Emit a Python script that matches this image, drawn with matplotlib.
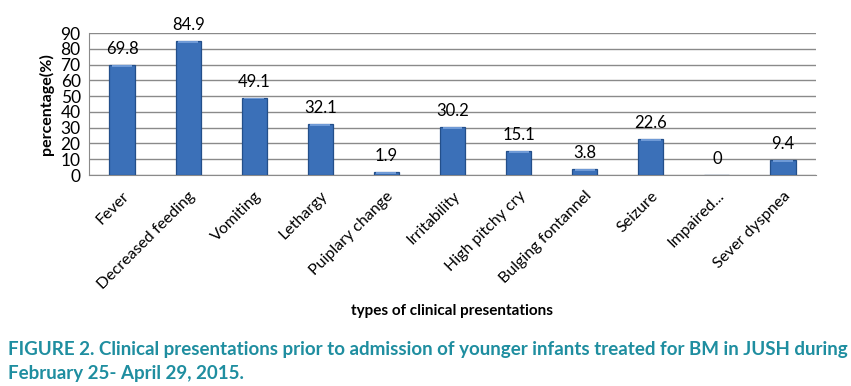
import matplotlib.pyplot as plt
import numpy as np

categories = ["Fever", "Decreased feeding", "Vomiting", "Lethargy", "Puiplary change",
              "Irritability", "High pitchy cry", "Bulging fontannel", "Seizure",
              "Impaired...", "Sever dyspnea"]
values = [69.8, 84.9, 49.1, 32.1, 1.9, 30.2, 15.1, 3.8, 22.6, 0, 9.4]
yticks = list(range(0, 100, 10))

caption_lines = ["FIGURE 2. Clinical presentations prior to admission of younger infants treated for BM in JUSH during",
                 "February 25- April 29, 2015."]

plt.rcParams['font.family'] = ['Lato', 'DejaVu Sans']

W, H = 851, 386
fig = plt.figure(figsize=(W / 100, H / 100), dpi=100)
ax = fig.add_axes([89 / W, 1 - 175 / H, (816 - 89) / W, (175 - 33) / H])

x = np.arange(len(categories))
ax.bar(x, values, width=0.38, color="#3b70b8", edgecolor="#234f8a", linewidth=0.9, zorder=3)
# light top band to mimic the bevel
ax.bar(x, [min(v, 1.2) for v in values], bottom=[max(v - 1.2, 0) for v in values],
       width=0.3, color="#6f9ad6", linewidth=0, zorder=4)
for xi, v in zip(x, values):
    ax.text(xi, v + 5, f"{v:g}", ha="center", va="bottom", fontsize=12, zorder=5)

ax.set_xlim(-0.5, len(categories) - 0.5)
ax.set_ylim(0, 90)
ax.set_yticks(yticks)
ax.set_yticklabels([str(t) for t in yticks], fontsize=12.5)
ax.yaxis.grid(True, color="#8a8a8a", linewidth=1, zorder=0)
ax.tick_params(axis="y", length=0, pad=6)
ax.tick_params(axis="x", length=0, pad=10)
ax.set_xticks(x)
ax.set_xticklabels(categories, rotation=45, ha="right", rotation_mode="anchor", fontsize=11.5)
for s in ["top", "right"]:
    ax.spines[s].set_visible(False)
ax.spines["left"].set_color("#8a8a8a")
ax.spines["bottom"].set_color("#8a8a8a")

ax.set_ylabel("percentage(%)", fontsize=11.5, fontweight="bold", labelpad=5)
fig.text(452 / W, 1 - 311 / H, "types of clinical presentations", ha="center", va="center",
         fontsize=11, fontweight="bold")

# caption, sized so the first line spans the figure width like the original
cap1 = fig.text(8 / W, 1 - 349 / H, caption_lines[0], ha="left", va="center", fontsize=12,
                fontweight="bold", color="#1f8ea0")
fig.canvas.draw()
w = cap1.get_window_extent().width
cap1.set_fontsize(12 * (843 - 8) / w)
fig.text(8 / W, 1 - 373 / H, caption_lines[1], ha="left", va="center",
         fontsize=cap1.get_fontsize(), fontweight="bold", color="#1f8ea0")

fig.savefig("out.png", dpi=100)
